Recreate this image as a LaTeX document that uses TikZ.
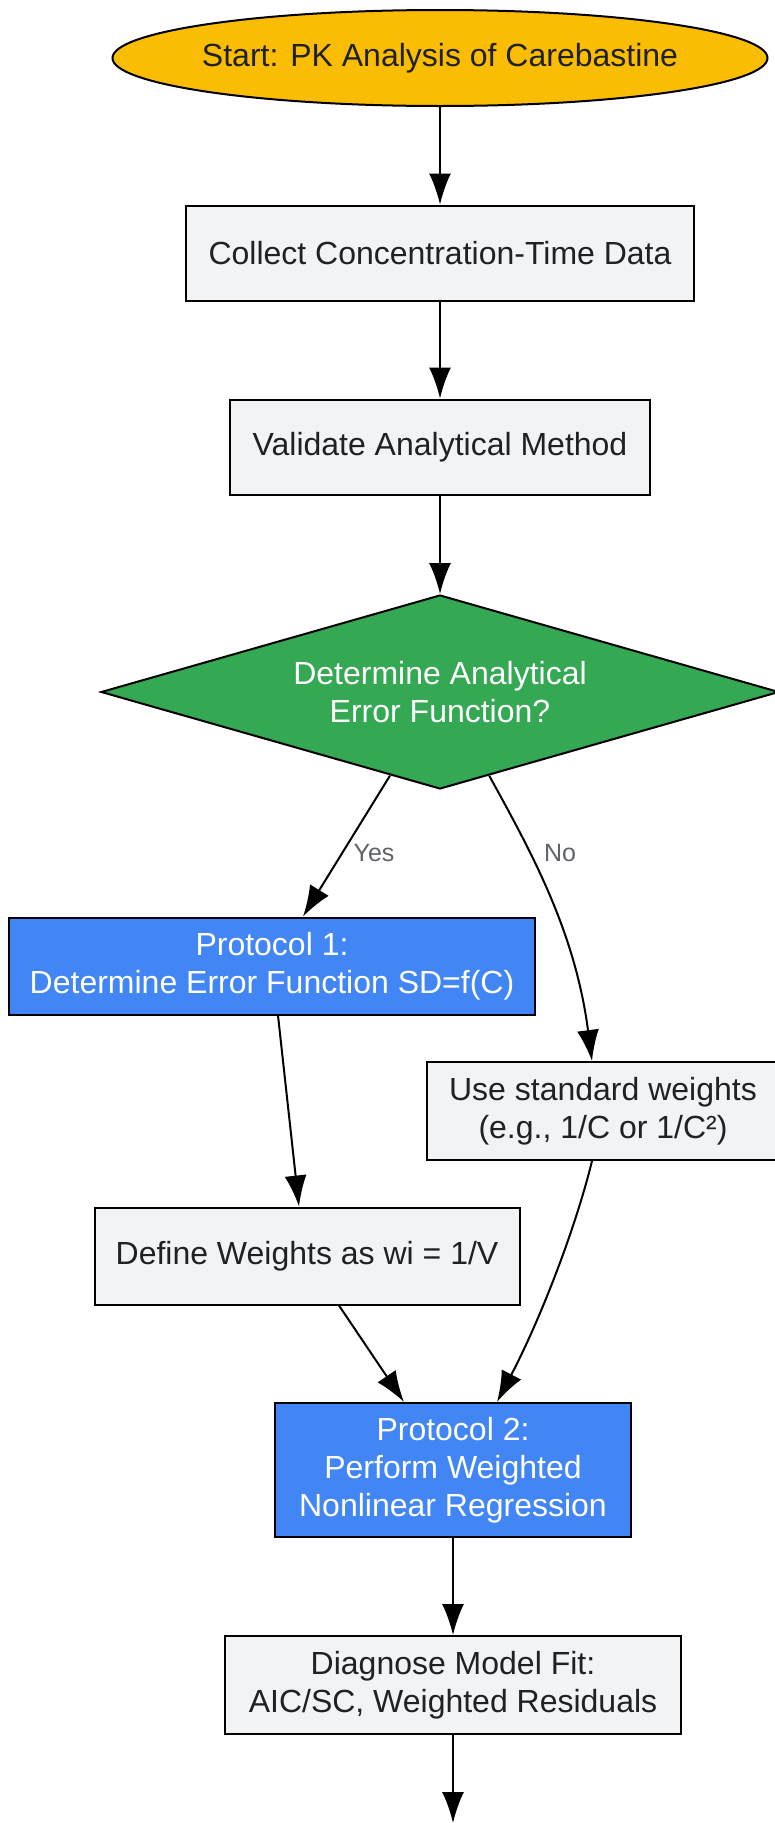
\documentclass[tikz,border=0pt]{standalone}
\usepackage{fontspec}
\setmainfont{Liberation Sans}
\usetikzlibrary{shapes.geometric,arrows.meta,calc}
\definecolor{cyellow}{HTML}{FBBC04}
\definecolor{cgreen}{HTML}{34A853}
\definecolor{cblue}{HTML}{4285F4}
\definecolor{cgrey}{HTML}{F1F3F4}
\definecolor{ctext}{HTML}{202124}
\definecolor{clabel}{HTML}{5F6368}
\begin{document}
\begin{tikzpicture}[x=1pt,y=-1pt,
  base/.style={draw=black,line width=2pt,font=\fontsize{32}{38}\selectfont,align=center,inner sep=0pt},
  greybox/.style={base,rectangle,fill=cgrey,text=ctext},
  bluebox/.style={base,rectangle,fill=cblue,text=white},
  arr/.style={line width=2pt,-{Latex[length=31pt,width=22pt]}},
  elabel/.style={font=\fontsize{25}{30}\selectfont,text=clabel}]
\useasboundingbox (0,0) rectangle (774,1823);
\node[base,ellipse,fill=cyellow,text=ctext,minimum width=655,minimum height=96] (start) at (440,58) {\makebox[0pt][c]{Start: PK Analysis of Carebastine}};
\node[greybox,minimum width=508,minimum height=95] (collect) at (440,253) {Collect Concentration-Time Data};
\node[greybox,minimum width=420,minimum height=95] (validate) at (440,447) {Validate Analytical Method};
\node[base,diamond,fill=cgreen,text=white,aspect=3.49,minimum width=678,minimum height=194] (dec) at (440,692) {Determine Analytical\\Error Function?};
\node[bluebox,minimum width=526,minimum height=97] (p1) at (272,966) {Protocol 1:\\Determine Error Function SD=f(C)};
\node[greybox,minimum width=352,minimum height=98] (std) at (603,1111) {Use standard weights\\(e.g., 1/C or 1/C²)};
\node[greybox,minimum width=425,minimum height=97] (defw) at (307,1256) {Define Weights as wi = 1/V};
\node[bluebox,minimum width=356,minimum height=134] (p2) at (453,1470) {Protocol 2:\\Perform Weighted\\Nonlinear Regression};
\node[greybox,minimum width=456,minimum height=98] (diag) at (453,1685) {Diagnose Model Fit:\\AIC/SC, Weighted Residuals};
\coordinate (endpt) at (453,1823);

\draw[arr] (start) -- (collect);
\draw[arr] (collect) -- (validate);
\draw[arr] (validate) -- (dec);
\coordinate (ys) at ($(dec.south)!0.147!(dec.west)$);
\coordinate (ns) at ($(dec.south)!0.145!(dec.east)$);
\draw[arr] (ys) -- (p1.north -| 303,0);
\draw[arr] (ns) .. controls (530,850) and (575,930) .. (std.north -| 592,0);
\node[elabel] (yeslab) at (374,853) {Yes};
\node[elabel] (nolab) at (560,853) {No};
\draw[arr] (p1.south -| 278,0) -- (defw.north -| 299,0);
\draw[arr] (defw.south -| 339,0) -- (p2.north -| 404,0);
\draw[arr] (std.south -| 592,0) .. controls (575,1230) and (540,1320) .. (p2.north -| 497,0);
\draw[arr] (p2) -- (diag);
\draw[arr] (diag) -- (endpt);
\end{tikzpicture}
\end{document}
